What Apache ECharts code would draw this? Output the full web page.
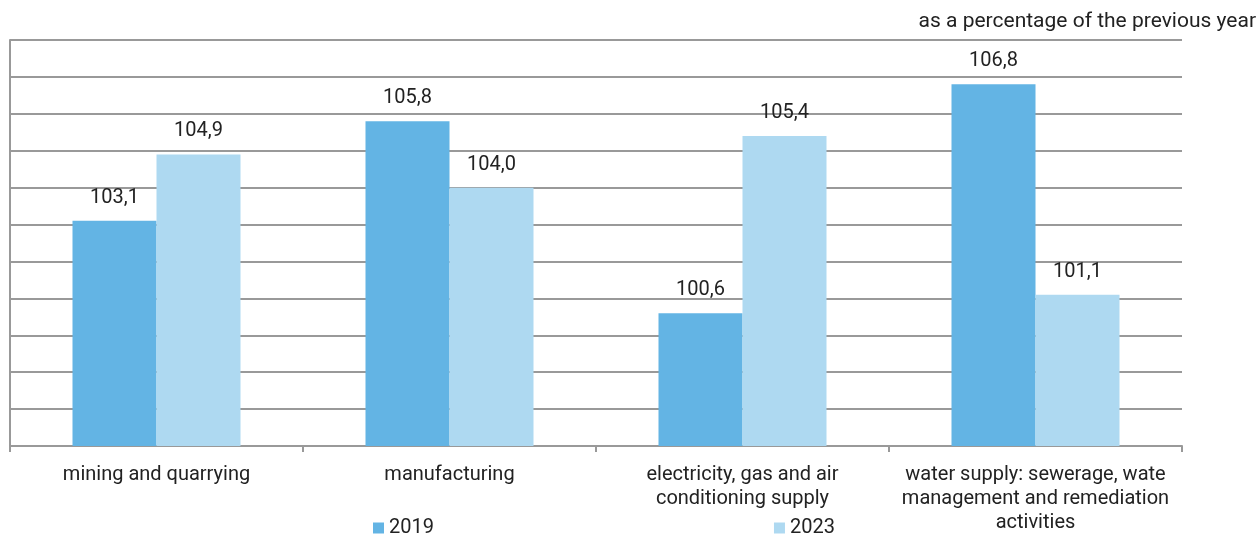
<!DOCTYPE html>
<html><head><meta charset="utf-8">
<script src="https://cdn.jsdelivr.net/npm/echarts@6/dist/echarts.min.js"></script>
<style>html,body{margin:0;padding:0;background:#fff}#c{width:1259px;height:538px}</style>
</head><body><div id="c"></div>
<script>
const categories = ["mining and quarrying", "manufacturing", "electricity, gas and air\nconditioning supply", "water supply: sewerage, wate\nmanagement and remediation\nactivities"];
const values2019 = [103.1, 105.8, 100.6, 106.8];
const values2023 = [104.9, 104.0, 105.4, 101.1];
const seriesNames = ["2019", "2023"];
const unitNote = "as a percentage of the previous year";

const chart = echarts.init(document.getElementById('c'));
const fmt = p => p.value.toFixed(1).replace('.', ',');
const font = 'Roboto';
chart.setOption({
  animation: false,
  textStyle: {fontFamily: font},
  title: {text: unitNote, right: 3, top: 11, padding: 0, textStyle: {fontFamily: font, fontSize: 21, fontWeight: 'normal', color: '#222'}},
  legend: {bottom: 0, left: 373, padding: [0, 0, 0, 0], itemWidth: 11, itemHeight: 11, itemGap: 340, icon: 'rect',
    textStyle: {fontFamily: font, fontSize: 20, color: '#222'}, data: seriesNames},
  grid: {left: 10, right: 77, top: 40, bottom: 92},
  xAxis: {type: 'category', data: categories,
    axisLine: {lineStyle: {color: '#999', width: 2}},
    axisTick: {show: true, length: 6, lineStyle: {color: '#999', width: 2}},
    axisLabel: {fontFamily: font, fontSize: 20, color: '#222', margin: 17, lineHeight: 24, interval: 0}},
  yAxis: {type: 'value', min: 97, max: 108, interval: 1,
    axisLabel: {show: false}, axisTick: {show: false},
    axisLine: {show: true, lineStyle: {color: '#999', width: 2}},
    splitLine: {lineStyle: {color: '#999', width: 2}}},
  series: [
    {name: seriesNames[0], type: 'bar', data: values2019, barWidth: 84, barGap: '0%', itemStyle: {color: '#63b4e4'},
      label: {show: true, position: 'top', distance: 13, formatter: fmt, fontFamily: font, fontSize: 20, color: '#222'}},
    {name: seriesNames[1], type: 'bar', data: values2023, barWidth: 84, itemStyle: {color: '#aed9f1'},
      label: {show: true, position: 'top', distance: 13, formatter: fmt, fontFamily: font, fontSize: 20, color: '#222'}}
  ]
});
</script></body></html>
